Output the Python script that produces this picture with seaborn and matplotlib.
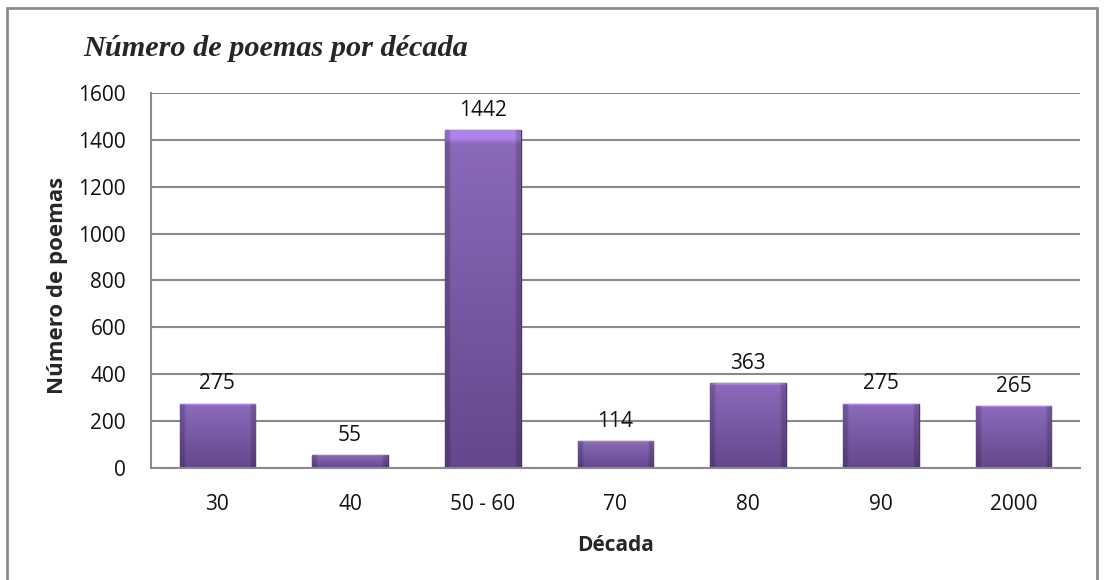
import matplotlib
matplotlib.use("Agg")
import matplotlib.pyplot as plt
import seaborn as sns
import pandas as pd
import numpy as np
from matplotlib.patches import Rectangle
from matplotlib.colors import to_rgb

# chart data
decadas = ['30', '40', '50 - 60', '70', '80', '90', '2000']
poemas = [275, 55, 1442, 114, 363, 275, 265]
y_ticks = [0, 200, 400, 600, 800, 1000, 1200, 1400, 1600]

df = pd.DataFrame({'Década': decadas, 'Poemas': poemas})

sns.set_theme(style="white")
plt.rcParams['font.family'] = ['Open Sans', 'DejaVu Sans']

fig = plt.figure(figsize=(11.04, 5.8), dpi=100)
ax = fig.add_axes([0.1368, 0.1931, 0.8412, 0.6466])

# outer chart frame
fig.patches.append(Rectangle((7 / 1104, -0.02), 1090 / 1104, 1 - 8 / 580 + 0.02,
                             transform=fig.transFigure, fill=False,
                             edgecolor='#8c8c8c', linewidth=2))

ax.set_axisbelow(True)
ax.yaxis.grid(True, color='#8a8a8a', linewidth=1.5)

sns.barplot(data=df, x='Década', y='Poemas', order=decadas, color='#7a58a8',
            width=0.57, edgecolor='#4e3470', linewidth=1.0, saturation=1, ax=ax)

# gradient fill clipped to each bar (bevel-like look)
top = np.array(to_rgb('#8b6bbb'))
bot = np.array(to_rgb('#64478c'))
t = np.linspace(0, 1, 60)[:, None, None]
grad = top * (1 - t) + bot * t
grad = np.repeat(grad, 30, axis=1)
side = np.ones(30)
side[:2] = 0.82
side[-2:] = 0.82
grad = grad * side[None, :, None]
grad[:2] = np.clip(grad[:2] * 1.25, 0, 1)
for p in ax.patches:
    x0, w, h = p.get_x(), p.get_width(), p.get_height()
    im = ax.imshow(grad, extent=(x0, x0 + w, 0, h), aspect='auto',
                   origin='upper', zorder=p.get_zorder() + 0.1, interpolation='bilinear')
    im.set_clip_path(p)

for p, v in zip(ax.patches, poemas):
    ax.text(p.get_x() + p.get_width() / 2, v + 40, f'{v}', ha='center', va='bottom',
            fontsize=15, color='#111111')

ax.set_ylim(0, 1600)
ax.set_yticks(y_ticks)
ax.set_xlim(-0.5, len(decadas) - 0.5)
ax.tick_params(axis='both', labelsize=15, length=0, colors='#111111')
ax.tick_params(axis='x', pad=19)
ax.tick_params(axis='y', pad=18)

for side_name in ['top', 'right']:
    ax.spines[side_name].set_visible(False)
for side_name in ['left', 'bottom']:
    ax.spines[side_name].set_color('#8a8a8a')
    ax.spines[side_name].set_linewidth(1.5)

ax.set_xlabel('Década', fontsize=15, fontweight='bold', labelpad=14)
ax.set_ylabel('Número de poemas', fontsize=16, fontweight='bold')
ax.yaxis.set_label_coords(-0.089, 0.486)

fig.text(83 / 1104, 1 - 48 / 580, 'Número de poemas por década',
         family='Liberation Serif', style='italic', fontweight='bold',
         fontsize=21.8, ha='left', va='center')

plt.savefig('out.png', dpi=100)
plt.close()
